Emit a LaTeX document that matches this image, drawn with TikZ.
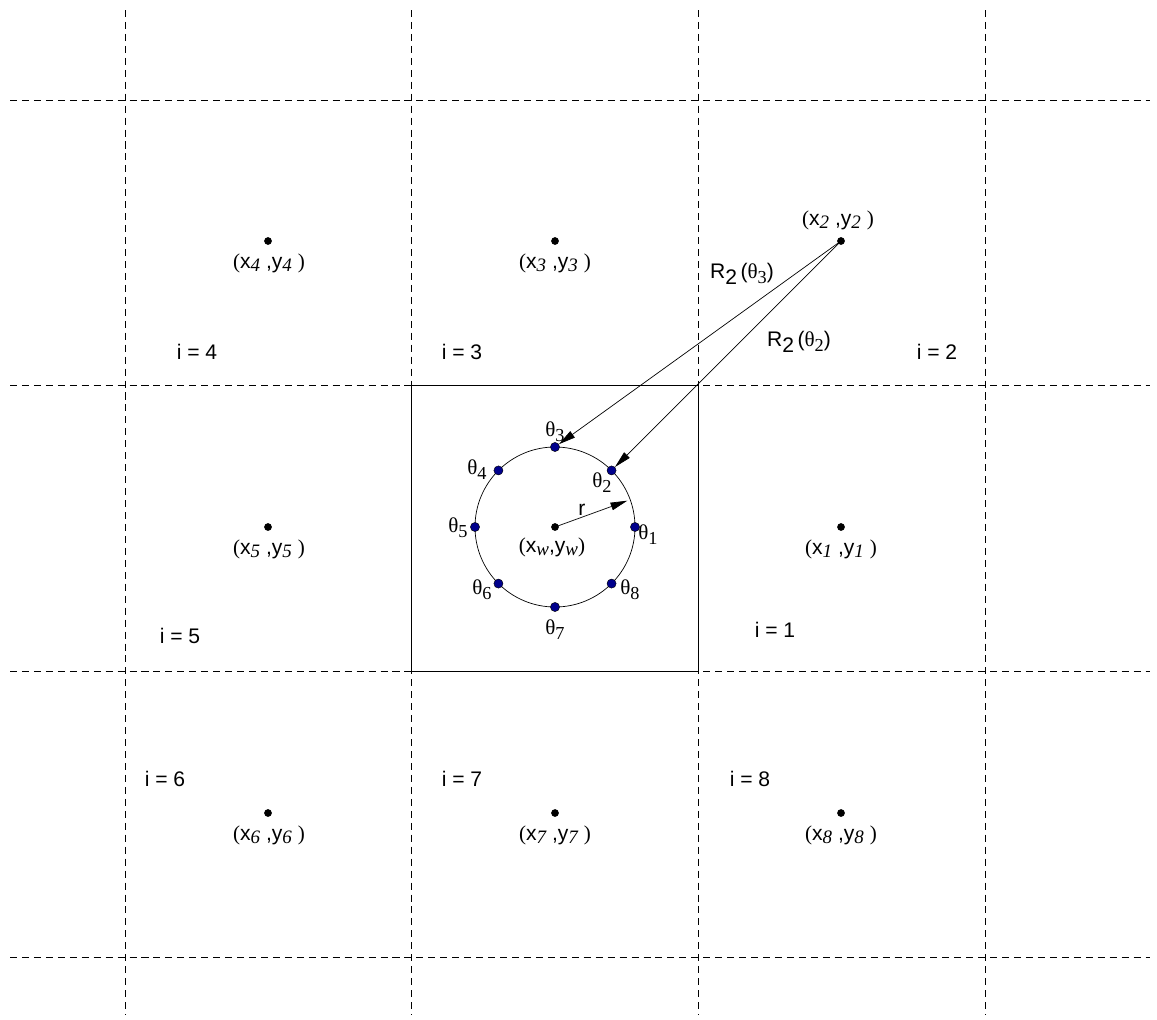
\documentclass[tikz,border=0pt]{standalone}
\usepackage{fontspec}
\setmainfont{Liberation Sans}
\newfontfamily\serifrm{Liberation Serif}
\usetikzlibrary{arrows.meta}
\definecolor{ptblue}{rgb}{0,0,0.55}
\newcommand{\subit}[1]{\raisebox{-0.35ex}{\fontsize{13.5}{14}\selectfont\serifrm\itshape #1}}
\newcommand{\xylab}[1]{{\serifrm(}x\subit{#1}\ ,y\subit{#1}\ {\serifrm)}}
\newcommand{\thl}[1]{{\serifrm θ}\raisebox{-0.45ex}{\fontsize{13}{14}\selectfont\serifrm #1}}
\newcommand{\rlab}[1]{R\raisebox{-0.5ex}{2}\,(\thl{#1})}
\tikzset{
  gridline/.style={dashed, dash pattern=on 5pt off 3.5pt, line width=0.5pt},
  cellpt/.style={circle, fill=black, inner sep=0pt, minimum size=5.5pt},
  bluept/.style={circle, draw=black, fill=ptblue, line width=0.3pt, inner sep=0pt, minimum size=6.5pt},
  ptr/.style={-{Triangle[length=12pt, width=5.5pt]}, line width=0.5pt},
  txt/.style={font=\fontsize{15}{17}\selectfont, inner sep=0pt}
}
\begin{document}
\begin{tikzpicture}[x=0.025cm, y=-0.025cm]
\useasboundingbox (0,0) rectangle (1157,1019);
% grid of cells
\foreach \x in {125,411,698,985} \draw[gridline] (\x,10) -- (\x,1015);
\foreach \y in {100,385,671,957} \draw[gridline] (10,\y) -- (1150,\y);
\draw[line width=0.5pt] (411,385) rectangle (698,671);
% cell centres
\node[cellpt] (p1) at (841,527) {};
\node[cellpt] (p2) at (841,241) {};
\node[cellpt] (p3) at (555,241) {};
\node[cellpt] (p4) at (268,241) {};
\node[cellpt] (p5) at (268,527) {};
\node[cellpt] (p6) at (268,813) {};
\node[cellpt] (p7) at (555,813) {};
\node[cellpt] (p8) at (841,813) {};
\node[cellpt] (c) at (555,527) {};
\node[txt] (q1) at (841,549) {\xylab{1}};
\node[txt] (q2) at (838,220) {\xylab{2}};
\node[txt] (q3) at (555,263) {\xylab{3}};
\node[txt] (q4) at (269,263) {\xylab{4}};
\node[txt] (q5) at (269,549) {\xylab{5}};
\node[txt] (q6) at (269,835) {\xylab{6}};
\node[txt] (q7) at (555,835) {\xylab{7}};
\node[txt] (q8) at (841,835) {\xylab{8}};
\node[txt] (qc) at (552,547) {{\serifrm(}x\subit{w},y\subit{w}{\serifrm)}};
% cell indices
\node[txt] (i1) at (775,630) {i = 1};
\node[txt] (i2) at (937,352) {i = 2};
\node[txt] (i3) at (462,352) {i = 3};
\node[txt] (i4) at (197,352) {i = 4};
\node[txt] (i5) at (180,636) {i = 5};
\node[txt] (i6) at (165,779) {i = 6};
\node[txt] (i7) at (462,779) {i = 7};
\node[txt] (i8) at (750,779) {i = 8};
% ring of points
\draw[line width=0.5pt] (c) circle (80);
\foreach \k in {1,...,8}
  \path (c) ++({-(\k-1)*45}:80) node[bluept] (t\k) {};
\node[txt] (l1) at (648,535) {\thl{1}};
\node[txt] (l2) at (602,483) {\thl{2}};
\node[txt] (l3) at (555,432) {\thl{3}};
\node[txt] (l4) at (477,470) {\thl{4}};
\node[txt] (l5) at (458,528) {\thl{5}};
\node[txt] (l6) at (482,590) {\thl{6}};
\node[txt] (l7) at (555,630) {\thl{7}};
\node[txt] (l8) at (630,590) {\thl{8}};
% radius
\coordinate (rtip) at ([shift={(-20:77)}]c);
\draw[ptr] (c.center) -- (rtip);
\node[txt] (rl) at (582,510) {r};
% distances from cell 2
\draw[ptr] (p2.center) -- (t3);
\draw[ptr] (p2.center) -- (t2);
\node[txt] (d3) at (742,274) {\rlab{3}};
\node[txt] (d2) at (799,342) {\rlab{2}};
\end{tikzpicture}
\end{document}
